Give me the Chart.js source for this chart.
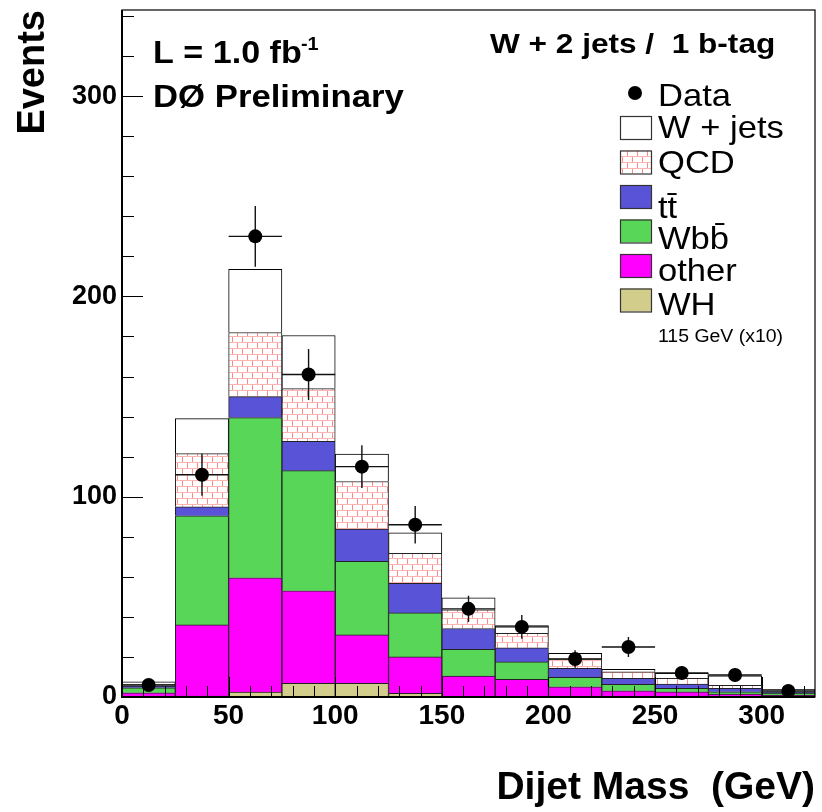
<!DOCTYPE html>
<html>
<head>
<meta charset="utf-8">
<script src="https://cdn.jsdelivr.net/npm/chart.js@4.4.1/dist/chart.umd.min.js"></script>
<style>
  html, body { margin: 0; padding: 0; background: #fff; }
</style>
</head>
<body>
<canvas id="c" width="822" height="812"></canvas>
<script>
// bin edges of the dijet mass histogram (GeV)
const binEdges = [0, 25, 50, 75, 100, 125, 150, 175, 200, 225, 250, 275, 300, 325];
const binCenters = binEdges.slice(0, -1).map((e, i) => (e + binEdges[i + 1]) / 2);

// stacked backgrounds, bottom to top
const whValues    = [0.2, 0.5, 2.5, 6.8, 6.8, 1.8, 0.3, 0.2, 0.1, 0.1, 0, 0, 0];
const otherValues = [1.9, 35.5, 57, 46.2, 24.2, 18.2, 10.2, 8.6, 5, 3, 2.6, 1.5, 1];
const wbbValues   = [2.5, 54.5, 80, 60, 36.7, 22, 13.3, 8.7, 4.7, 3.2, 1.7, 1.1, 0.8];
const ttValues    = [0.8, 4.5, 10.5, 14.7, 16.1, 14.7, 10.4, 7.1, 4.5, 3, 2.2, 1.7, 0.6];
const qcdValues   = [0.8, 26.5, 32, 26.3, 23.8, 15, 9.3, 7.2, 4.7, 3.3, 2.8, 1.5, 0.6];
const wjetsValues = [1.4, 17.5, 31.5, 26.5, 13.7, 10.3, 6, 3.8, 2.8, 1.2, 2.5, 4.8, 0.8];

// data points and their vertical errors
const dataValues = [6, 111, 230, 161, 115, 86, 44, 35, 19, 25, 12, 11, 3];
const dataErrors = [2.4, 10.5, 15.2, 12.7, 10.7, 9.3, 6.6, 5.9, 4.4, 5.0, 3.5, 3.3, 1.7];

const xTicks = [0, 50, 100, 150, 200, 250, 300];
const yTicks = [0, 100, 200, 300];

const FONT = '"Liberation Sans", Arial, Helvetica, sans-serif';

const colors = {
  wh: '#d2cd8a',
  other: '#ff00ff',
  wbb: '#57d657',
  tt: '#5953d8',
  wjets: '#ffffff'
};

function brickPattern() {
  const c = document.createElement('canvas');
  c.width = 20; c.height = 12;
  const g = c.getContext('2d');
  g.fillStyle = '#fff';
  g.fillRect(0, 0, 20, 12);
  g.strokeStyle = '#ffb4b4';
  g.lineWidth = 1;
  g.beginPath();
  g.moveTo(0, 0.5); g.lineTo(20, 0.5);
  g.moveTo(0, 6.5); g.lineTo(20, 6.5);
  g.stroke();
  g.strokeStyle = '#ff8a8a';
  g.beginPath();
  g.moveTo(2.5, 1); g.lineTo(2.5, 6);
  g.moveTo(12.5, 1); g.lineTo(12.5, 6);
  g.moveTo(7.5, 7); g.lineTo(7.5, 12);
  g.moveTo(17.5, 7); g.lineTo(17.5, 12);
  g.stroke();
  return g.createPattern(c, 'repeat');
}
const qcdFill = brickPattern();

function barSet(label, values, fill, border) {
  return {
    type: 'bar',
    label: label,
    data: values,
    backgroundColor: fill,
    borderColor: border || '#222',
    borderWidth: 1,
    barPercentage: 1,
    categoryPercentage: 1,
    stack: 'mc',
    order: 1
  };
}

function stretchText(ctx, text, x, y, font, sx) {
  ctx.save();
  ctx.font = font;
  ctx.translate(x, y);
  ctx.scale(sx, 1);
  ctx.fillText(text, 0, 0);
  ctx.restore();
}

// frame, inward ticks and error bars, drawn after the stack and before the data points
const frameAndErrors = {
  id: 'frameAndErrors',
  beforeDatasetDraw(chart, args) {
    if (args.index !== 0) return;
    const ctx = chart.ctx;
    const xs = chart.scales.x, ys = chart.scales.y;
    const a = chart.chartArea;
    ctx.save();
    ctx.strokeStyle = '#000';

    // ticks
    ctx.lineWidth = 1;
    ctx.beginPath();
    for (let v = 0; v <= 320; v += 10) {
      const px = Math.round(xs.getPixelForValue(v)) + 0.5;
      const len = v % 50 === 0 ? 20 : 11;
      ctx.moveTo(px, a.bottom);
      ctx.lineTo(px, a.bottom - len);
    }
    for (let v = 20; v <= 340; v += 20) {
      const py = Math.round(ys.getPixelForValue(v)) + 0.5;
      const len = v % 100 === 0 ? 21 : 12;
      ctx.moveTo(a.left, py);
      ctx.lineTo(a.left + len, py);
    }
    ctx.stroke();

    // frame
    ctx.lineWidth = 1.2;
    ctx.strokeRect(a.left, a.top, a.right - a.left, a.bottom - a.top);
    ctx.lineWidth = 2;
    ctx.beginPath();
    ctx.moveTo(a.left, a.top);
    ctx.lineTo(a.left, a.bottom);
    ctx.lineTo(a.right, a.bottom);
    ctx.stroke();

    // error bars
    ctx.lineWidth = 1.4;
    ctx.strokeStyle = '#111';
    ctx.beginPath();
    dataValues.forEach((v, i) => {
      const px = xs.getPixelForValue(binCenters[i]);
      const py = ys.getPixelForValue(v);
      ctx.moveTo(xs.getPixelForValue(binEdges[i]), py);
      ctx.lineTo(xs.getPixelForValue(binEdges[i + 1]), py);
      ctx.moveTo(px, ys.getPixelForValue(v - dataErrors[i]));
      ctx.lineTo(px, ys.getPixelForValue(v + dataErrors[i]));
    });
    ctx.stroke();
    ctx.restore();
  }
};

// legend and labels in the ROOT style
const rootLegend = {
  id: 'rootLegend',
  afterDraw(chart) {
    const ctx = chart.ctx;
    ctx.save();
    ctx.fillStyle = '#000';
    ctx.textBaseline = 'alphabetic';
    ctx.textAlign = 'left';

    stretchText(ctx, 'L = 1.0 fb', 153, 63, 'bold 31px ' + FONT, 1.1);
    stretchText(ctx, '-1', 301, 50, 'bold 18px ' + FONT, 1.1);
    stretchText(ctx, 'D\u00D8 Preliminary', 153, 107, 'bold 31px ' + FONT, 1.12);
    stretchText(ctx, 'W + 2 jets /  1 b-tag', 490, 53, 'bold 27px ' + FONT, 1.17);

    // data marker
    ctx.beginPath();
    ctx.arc(635, 93, 7, 0, Math.PI * 2);
    ctx.fill();
    stretchText(ctx, 'Data', 658, 106, '32px ' + FONT, 1.08);

    const entries = [
      ['W + jets', colors.wjets, 116, 138],
      ['QCD', qcdFill, 150.5, 173],
      ['t\u0074\u0304', colors.tt, 185, 218],
      ['Wb\u0062\u0304', colors.wbb, 219.5, 249],
      ['other', colors.other, 254, 281],
      ['WH', colors.wh, 288.5, 315]
    ];
    entries.forEach(([label, fill, top, base]) => {
      ctx.fillStyle = fill;
      ctx.fillRect(620, top, 31, 23);
      ctx.strokeStyle = '#333';
      ctx.lineWidth = 1.2;
      ctx.strokeRect(620.5, top + 0.5, 31, 23);
      ctx.fillStyle = '#000';
      stretchText(ctx, label, 658, base, '32px ' + FONT, 1.08);
    });
    stretchText(ctx, '115 GeV (x10)', 658, 342, '18px ' + FONT, 1.08);
    ctx.restore();
  }
};

new Chart(document.getElementById('c'), {
  type: 'bar',
  data: {
    labels: binCenters,
    datasets: [
      {
        type: 'scatter',
        label: 'Data',
        data: binCenters.map((x, i) => ({ x: x, y: dataValues[i] })),
        pointRadius: 7,
        pointBackgroundColor: '#000',
        pointBorderColor: '#000',
        pointBorderWidth: 0,
        stack: 'data',
        order: 0
      },
      barSet('WH', whValues, colors.wh),
      barSet('other', otherValues, colors.other),
      barSet('Wbb', wbbValues, colors.wbb),
      barSet('tt', ttValues, colors.tt),
      barSet('QCD', qcdValues, qcdFill),
      barSet('W + jets', wjetsValues, colors.wjets, '#000')
    ]
  },
  options: {
    responsive: false,
    animation: false,
    layout: { padding: { top: 10, right: 7, bottom: 0, left: 0 } },
    plugins: {
      legend: { display: false },
      tooltip: { enabled: false }
    },
    scales: {
      x: {
        type: 'linear',
        min: 0,
        max: 325,
        offset: false,
        stacked: true,
        grid: { display: false, drawTicks: false },
        border: { display: false },
        afterBuildTicks: (scale) => { scale.ticks = xTicks.map(v => ({ value: v })); },
        ticks: {
          padding: 2,
          maxRotation: 0,
          autoSkip: false,
          color: '#000',
          font: { family: FONT, size: 28, weight: 'bold' }
        },
        title: {
          display: true,
          text: 'Dijet Mass  (GeV)',
          align: 'end',
          color: '#000',
          padding: { top: 0, bottom: 0 },
          font: { family: FONT, size: 39, weight: 'bold' }
        },
        afterFit: (scale) => {
          scale.height = 115;
          scale.paddingLeft = 0;
          scale.paddingRight = 0;
        }
      },
      y: {
        min: 0,
        max: 343,
        stacked: true,
        grid: { display: false, drawTicks: false },
        border: { display: false },
        afterBuildTicks: (scale) => { scale.ticks = yTicks.map(v => ({ value: v })); },
        ticks: {
          padding: 5,
          autoSkip: false,
          color: '#000',
          font: { family: FONT, size: 27, weight: 'bold' }
        },
        title: {
          display: true,
          text: 'Events',
          align: 'end',
          color: '#000',
          padding: { top: 11, bottom: 0 },
          font: { family: FONT, size: 38, weight: 'bold' }
        },
        afterFit: (scale) => {
          scale.width = 122;
          scale.paddingTop = 0;
          scale.paddingBottom = 0;
        }
      }
    }
  },
  plugins: [frameAndErrors, rootLegend]
});
</script>
</body>
</html>
